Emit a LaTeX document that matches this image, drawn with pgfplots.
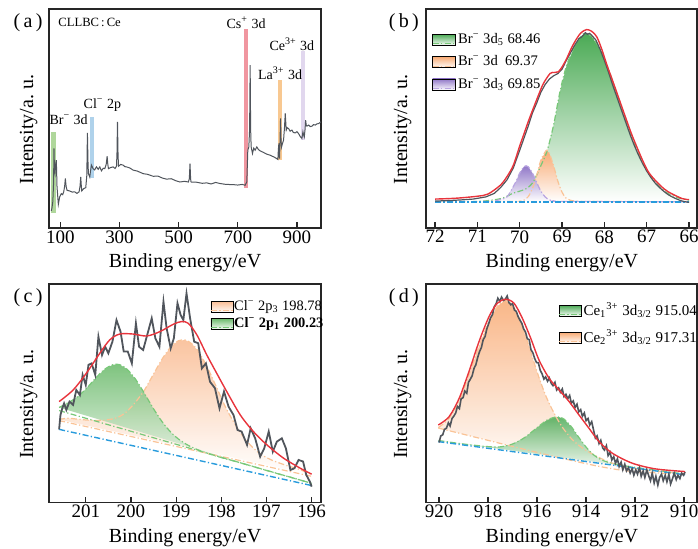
\documentclass[border=0pt]{standalone}
\usepackage{fontspec}
\setmainfont{Liberation Serif}
\usepackage{pgfplots}
\pgfplotsset{compat=1.18}
\usepackage{pgfplotstable}

\definecolor{raw}{RGB}{80,85,92}
\definecolor{env}{RGB}{232,52,60}
\definecolor{base}{RGB}{40,155,220}
\definecolor{gline}{RGB}{120,200,120}
\definecolor{gfill}{RGB}{75,170,85}
\definecolor{gfillc}{RGB}{105,185,105}
\definecolor{oline}{RGB}{250,195,150}
\definecolor{ofill}{RGB}{248,170,115}
\definecolor{ofillc}{RGB}{250,190,150}
\definecolor{pline}{RGB}{185,165,225}
\definecolor{pfill}{RGB}{145,120,200}
\definecolor{bandG}{RGB}{175,215,155}
\definecolor{bandB}{RGB}{175,210,235}
\definecolor{bandR}{RGB}{240,150,160}
\definecolor{bandO}{RGB}{248,200,145}
\definecolor{bandP}{RGB}{225,215,238}

\tikzset{dd/.style={dash pattern=on 3pt off 1.2pt on 0.6pt off 1.2pt}}

\pgfplotsset{
  panel/.style={scale only axis, ymin=0, ymax=100, ytick=\empty,
    tick align=inside, xtick pos=left, major tick length=3pt,
    axis line style={line width=0.9pt, black!85},
    every tick/.style={black!85, line width=0.6pt},
    tick label style={font=\fontsize{9.5}{10}\selectfont, inner sep=1pt},
    label style={font=\fontsize{10}{12}\selectfont},
    xlabel={Binding energy/eV}, ylabel={Intensity/a.\ u.},
    xlabel style={at={(axis description cs:0.5,-0.16)}, anchor=center, inner sep=1pt},
    /pgf/number format/assume math mode=true,
    clip mode=individual,
    legend cell align=left,
    legend style={draw=none, fill=none, inner sep=0pt, anchor=north west,
       nodes={inner sep=1pt}},
  },
}

% ---------- data ----------
\pgfplotstableread{
x y
69.5 7.8
72.0 9.5
74.5 12
77.0 20
78.5 36.3
80.2 26
81.9 24.8
84.0 29
86.4 31
88.7 18.8
93.2 10.8
97.7 14.2
103.4 15.7
108 15.2
111.3 16.5
114.5 19
116.9 22.6
119.5 19
122.6 17.2
131.6 16.9
140 16.4
148.6 16.5
156 15.8
163.3 16.5
166.5 19
168.9 23.3
171 19
172.3 16.9
179.1 18
185.9 18.4
189.5 24
191.5 43.4
193.5 30
194.9 24.8
199.4 23.3
202 26
205.1 28.7
210.7 27.1
216 26.5
222.0 27.9
228 26.8
233.3 27.9
239.0 26.1
245 27.3
250.3 27.1
255 29
258.2 32.8
260.5 29
262.7 27.1
270 27.6
278.5 27.9
285 27.2
289.8 28.2
291.5 34
293.2 48.5
295 34
296.6 28.2
304 29
312.4 28.7
318 28
323.7 27.9
335 27.4
346.3 26.4
360 26.0
380.2 24.8
395 24.5
414.1 23.6
430 23.7
445 22.8
459.3 22.3
475 22.5
490 21.6
504.5 21.0
520 21.3
533 21.0
536.2 22.5
538.4 29.4
540.5 22.5
541.8 21.0
560 20.9
580 20.4
594.9 20.6
610 20.1
625 20.8
640.1 20.3
660 19.9
685.3 19.8
700 19.6
715 19.9
724.9 19.5
730.5 21.0
733.9 35.5
737.3 37.0
740 45
741.8 74.4
743.5 45
745.2 37.0
749.7 34.0
754 36.5
758.8 35.5
764.4 37.0
770 35.8
775.7 35.2
787 34.5
798.3 33.7
810 33.2
820.9 32.5
828 32.0
835.6 31.3
837.3 36
839.0 38.6
840.2 33
841.2 31.7
843 40
844.6 50.0
846.3 40
848.0 37.0
851 38.5
854.8 40.1
858 46
860.5 52.3
863.8 44.7
867 45.8
871.8 45.4
877 44.2
883.1 44.7
888 43.6
894.4 43.4
900 44.0
905.6 43.1
911 41.8
916.9 40.9
920.3 43.9
922.5 42.5
924.9 41.6
927.5 45
929.4 49.2
931.5 47
933.9 46.5
939.5 47.0
945 46.3
950.8 46.5
956 47.2
962.1 47.0
967 47.5
973.4 47.7
981.4 48.5
}\survey

% ---- (b) ----
\pgfplotstableread{
x y
72.0 12.0
71.0 12.1
70.5 13.2
70.3 14.5
70.16 15.9
70.0 16.8
69.83 18.1
69.7 20.5
69.6 24.1
69.5 28.5
69.36 34.8
69.2 47.0
69.05 62.2
68.89 74.4
68.69 83.5
68.55 87.5
68.46 89.0
68.3 87.5
68.1 81.6
67.9 72.3
67.7 61.0
67.5 49.5
67.3 38.9
67.1 30.2
66.9 23.5
66.7 18.9
66.5 15.8
66.25 13.7
66.0 12.7
}\bG
\pgfplotstableread{
x y
72.0 12.0
70.1 12.1
70.0 12.2
69.9 12.7
69.8 14.3
69.7 18.0
69.6 24.1
69.5 31.0
69.37 35.5
69.3 34.1
69.2 28.4
69.1 21.4
69.0 16.3
68.9 13.5
68.8 12.6
68.6 12.2
68.3 12.1
66.0 12.0
}\bO
\pgfplotstableread{
x y
72.0 12.0
70.75 12.1
70.5 12.8
70.3 14.2
70.1 20.8
70.0 25.1
69.9 28.0
69.85 28.4
69.8 28.0
69.7 25.1
69.6 20.8
69.5 16.8
69.4 14.2
69.3 12.8
69.2 12.4
69.0 12.1
66.0 12.0
}\bP
\pgfplotstableread{
x y
72.0 13.2
71.5 13.6
71.0 14.5
70.75 15.5
70.46 19.5
70.3 23.5
70.15 28.7
70.0 37.5
69.91 42.4
69.8 48.5
69.68 54.6
69.55 61.0
69.44 66.0
69.28 70.6
69.18 71.0
69.09 71.3
69.0 73.5
68.89 77.4
68.77 82.5
68.65 86.6
68.55 89.2
68.42 90.6
68.3 89.8
68.18 87.3
68.06 81.5
67.94 74.4
67.82 68.0
67.71 62.0
67.5 50.5
67.34 42.0
67.1 31.0
66.94 25.0
66.7 19.8
66.5 16.6
66.16 13.4
66.0 13.0
}\bE
\pgfplotstableread{
x y
72.0 12.3
71.7 12.5
71.4 12.8
71.1 13.2
70.8 14.2
70.6 15.8
70.45 18.5
70.3 22.0
70.15 27.5
70.0 35.5
69.9 41.0
69.8 46.5
69.7 52.5
69.6 57.0
69.5 62.0
69.4 65.5
69.3 68.0
69.2 69.5
69.1 70.5
69.0 72.5
68.9 76.5
68.8 80.0
68.7 83.5
68.6 86.5
68.55 87.0
68.5 88.0
68.45 89.2
68.4 88.4
68.35 88.9
68.3 88.0
68.2 85.8
68.1 81.5
68.0 76.5
67.9 71.0
67.8 65.0
67.7 59.5
67.6 54.0
67.5 48.5
67.4 43.0
67.3 38.0
67.2 33.5
67.1 29.5
67.0 26.0
66.9 23.0
66.8 20.5
66.7 18.5
66.6 16.8
66.5 15.3
66.4 14.2
66.3 13.3
66.2 12.5
66.1 12.0
66.0 11.7
}\bR

% ---- (c) ----
\pgfplotstableread{
x y
201.59 38.0
201.4 38.6
201.2 38.2
201.0 37.8
200.8 37.6
200.6 37.7
200.4 38.3
200.25 39.4
200.1 41.5
199.9 45.9
199.7 51.5
199.5 58.8
199.3 66.0
199.1 71.7
198.95 74.0
198.8 74.4
198.65 72.6
198.5 69.0
198.3 61.5
198.1 52.5
197.9 43.4
197.7 36.0
197.5 29.8
197.3 25.1
197.1 21.8
196.9 19.6
196.7 18.0
196.5 16.6
196.3 15.4
196.0 12.8
}\cO
\pgfplotstableread{
x y
201.59 43.5
201.4 45.6
201.2 48.1
201.0 51.9
200.8 56.5
200.6 60.7
200.4 63.1
200.25 63.1
200.1 61.3
199.9 56.5
199.7 49.9
199.5 42.9
199.3 36.7
199.1 31.8
198.95 29.1
198.8 27.0
198.65 25.3
198.5 24.0
198.3 22.5
198.1 21.2
197.9 20.0
197.7 18.9
197.5 17.7
197.3 16.5
197.1 15.3
196.9 14.1
196.7 12.9
196.5 11.8
196.3 10.6
196.0 8.8
}\cG
\pgfplotstableread{
x y
201.59 46.2
201.28 51.5
200.99 59.1
200.69 68.3
200.47 74.4
200.25 77.1
199.95 77.1
199.65 76.2
199.36 78.2
199.06 81.6
198.88 82.8
198.73 82.0
198.54 76.7
198.32 67.5
198.10 59.1
197.88 50.8
197.58 40.1
197.29 32.5
196.99 26.4
196.62 20.3
196.25 15.7
196.0 13.0
}\cE
\pgfplotstableread{
x y
201.59 33.5
201.56 40.1
201.52 43.1
201.48 45.4
201.43 42.4
201.36 46.2
201.28 44.7
201.21 51.5
201.13 49.2
201.07 58.4
201.0 53.8
200.94 63.0
200.87 63.7
200.79 58.4
200.72 75.9
200.64 67.5
200.57 71.3
200.50 68.3
200.41 73.6
200.32 83.5
200.23 78.2
200.16 69.1
200.07 69.1
199.98 63.7
199.89 82.0
199.82 71.3
199.73 69.8
199.64 76.7
199.54 84.3
199.46 75.2
199.37 71.3
199.28 91.9
199.21 79.7
199.12 70.6
199.05 75.2
198.97 91.2
198.90 85.8
198.84 83.5
198.77 95.7
198.69 84.3
198.60 73.6
198.51 72.9
198.43 61.4
198.34 63.7
198.25 55.3
198.14 52.3
198.04 43.1
197.94 50.8
197.84 43.9
197.73 40.1
197.64 33.2
197.55 32.5
197.43 26.4
197.35 34.0
197.25 29.4
197.14 21.0
197.05 24.8
196.95 32.5
196.86 23.3
196.77 27.9
196.66 29.4
196.57 24.8
196.47 14.9
196.38 15.7
196.29 19.5
196.19 18.8
196.12 12.7
196.04 9.6
196.0 7.3
}\cR

% ---- (d) ----
\pgfplotstableread{
x y
920.03 34.3
919.59 38.5
919.18 46.5
918.78 58.5
918.37 71.5
917.96 83.0
917.62 89.8
917.31 92.5
917.01 90.5
916.67 83.0
916.33 71.5
915.99 59.5
915.65 49.0
915.31 41.0
914.97 34.5
914.56 28.8
914.15 25.0
913.61 21.4
913.06 18.6
912.38 16.3
911.43 14.7
909.96 13.2
}\dO
\pgfplotstableread{
x y
920.03 34.3
919.59 38.5
919.18 46.5
918.78 58.5
918.37 71.5
917.96 83.0
917.62 89.8
917.31 92.5
917.01 90.5
916.67 83.0
916.33 71.5
915.99 59.5
915.65 49.0
915.31 41.0
914.97 34.5
914.56 28.8
914.15 25.0
913.61 21.4
913.06 18.6
912.38 16.3
911.43 14.7
909.96 13.2
909.96 13.0
912.08 14.2
913.44 16.5
915.03 20.4
916.46 24.2
918.23 29.1
920.03 34.1
}\dOfill
\pgfplotstableread{
x y
920.03 34.1
918.23 29.1
916.46 24.2
915.03 20.4
913.44 16.5
912.08 14.2
909.96 13.0
}\dOlow
\pgfplotstableread{
x y
920.03 28.4
919.0 26.8
918.0 25.6
917.5 25.5
917.0 26.8
916.5 29.8
916.0 34.3
915.6 37.7
915.3 39.0
915.1 39.1
914.9 38.2
914.6 34.7
914.3 29.9
914.0 25.4
913.7 21.9
913.4 19.7
913.0 18.1
912.5 17.0
912.0 16.1
911.0 14.6
909.96 13.0
}\dG
\pgfplotstableread{
x y
920.03 35.5
919.59 39.3
919.18 47.7
918.78 59.9
918.37 73.6
917.96 85.1
917.62 91.2
917.28 93.0
916.94 91.2
916.60 84.3
916.26 75.2
915.92 65.2
915.51 56.9
915.10 51.5
914.69 46.2
914.29 40.1
913.88 34.0
913.47 27.9
912.93 22.6
912.11 18.0
911.16 15.4
909.96 14.2
}\dE
\pgfplotstableread{
x y
920.00 27.5
919.93 30.5
919.85 31.0
919.78 33.5
919.70 34.0
919.62 36.5
919.55 35.0
919.47 38.5
919.40 39.5
919.32 41.0
919.25 44.0
919.17 43.0
919.10 47.5
919.02 48.0
918.95 51.0
918.87 50.0
918.80 55.0
918.72 56.5
918.65 58.0
918.57 61.5
918.50 63.0
918.42 66.5
918.35 69.0
918.27 71.0
918.20 74.5
918.12 76.0
918.05 79.5
917.97 82.0
917.90 84.5
917.82 86.0
917.75 89.5
917.67 91.0
917.60 93.5
917.52 92.0
917.45 94.0
917.37 92.5
917.30 93.0
917.22 94.5
917.15 91.5
917.07 90.5
917.00 91.0
916.92 88.0
916.85 87.5
916.77 85.0
916.70 83.5
916.62 82.0
916.55 79.5
916.47 78.0
916.40 75.0
916.32 74.5
916.25 70.0
916.17 68.5
916.10 66.0
916.02 64.0
915.95 64.0
915.87 60.5
915.80 59.0
915.72 56.5
915.65 57.5
915.57 55.5
915.50 57.0
915.42 54.5
915.35 53.5
915.27 55.0
915.20 51.5
915.12 52.5
915.05 50.5
914.97 52.0
914.90 48.5
914.82 49.5
914.75 47.5
914.67 49.0
914.60 45.5
914.52 46.5
914.45 43.5
914.37 45.0
914.30 41.5
914.22 42.5
914.15 39.5
914.07 41.0
914.00 37.5
913.92 38.5
913.85 35.5
913.77 37.0
913.70 33.5
913.62 29.5
913.55 30.5
913.47 27.0
913.40 28.5
913.32 25.0
913.25 24.0
913.17 26.0
913.10 21.5
913.02 23.0
912.95 19.5
912.87 21.0
912.80 18.0
912.72 20.0
912.65 16.5
912.57 18.5
912.50 15.0
912.42 17.5
912.35 14.5
912.27 16.0
912.20 13.5
912.12 15.5
912.05 12.5
911.97 15.0
911.90 13.0
911.82 16.0
911.75 12.0
911.67 14.5
911.60 11.5
911.52 15.0
911.45 12.5
911.37 10.0
911.30 13.5
911.22 9.0
911.15 12.0
911.07 8.0
911.00 11.5
910.92 13.0
910.85 10.0
910.77 12.5
910.70 9.5
910.62 13.0
910.55 8.5
910.47 11.0
910.40 13.5
910.32 10.5
910.25 12.5
910.17 11.0
910.10 13.5
910.02 12.5
909.96 14.0
}\dR

\begin{document}
\begin{tikzpicture}
\useasboundingbox (0,0) rectangle (349pt,274.5pt);

% ================= (a) =================
\begin{axis}[panel, at={(24.5pt,160.5pt)}, anchor=south west,
  width=136pt, height=109.5pt, xmin=61.6, xmax=981.4,
  xtick={100,300,500,700,900},
  ylabel style={at={(axis description cs:-0.075,0.45)}, anchor=center}]
\addplot[fill=bandG, draw=none, forget plot] coordinates {(69.5,6.9) (86.4,6.9) (86.4,43.9) (69.5,43.9)} -- cycle;
\addplot[fill=bandB, draw=none, forget plot] coordinates {(201.7,22.6) (213,22.6) (213,50.5) (201.7,50.5)} -- cycle;
\addplot[fill=bandR, draw=none, forget plot] coordinates {(722.6,18.4) (736.2,18.4) (736.2,90.9) (722.6,90.9)} -- cycle;
\addplot[fill=bandO, draw=none, forget plot] coordinates {(834.5,30.9) (849.2,30.9) (849.2,67.8) (834.5,67.8)} -- cycle;
\addplot[fill=bandP, draw=none, forget plot] coordinates {(914.7,40.4) (928.2,40.4) (928.2,80.8) (914.7,80.8)} -- cycle;
\addplot[raw, line width=0.5pt, forget plot] table {\survey};
\node[font=\fontsize{6.3}{7}\selectfont] at (axis cs:199,93.8) {CLLBC\,:\,Ce};
\node[font=\fontsize{7}{8}\selectfont] at (axis cs:128,49.5) {Br\textsuperscript{−} 3d};
\node[font=\fontsize{7}{8}\selectfont] at (axis cs:242,56) {Cl\textsuperscript{−} 2p};
\node[font=\fontsize{7}{8}\selectfont] at (axis cs:728,93.8) {Cs\textsuperscript{+} 3d};
\node[font=\fontsize{7}{8}\selectfont] at (axis cs:843,70.6) {La\textsuperscript{3+} 3d};
\node[font=\fontsize{7}{8}\selectfont] at (axis cs:883,84) {Ce\textsuperscript{3+} 3d};
\node[font=\fontsize{10}{12}\selectfont] at (axis description cs:-0.077,0.936) {(\,a\,)};
\end{axis}

% ================= (b) =================
\begin{axis}[panel, at={(213.2pt,160.5pt)}, anchor=south west,
  width=135.5pt, height=109.5pt, x dir=reverse, xmin=65.803, xmax=72.205,
  xtick={66,67,...,72},
  ylabel style={at={(axis description cs:-0.088,0.45)}, anchor=center},
  legend style={at={(axis description cs:0.02,0.90)}, row sep=2.6pt,
     font=\fontsize{7.3}{8}\selectfont}]
\addplot[draw=none, top color=gfill, bottom color=white, forget plot] table {\bG} -- cycle;
\addplot[draw=none, top color=ofill, bottom color=white, forget plot] table {\bO} -- cycle;
\addplot[draw=none, top color=pfill, bottom color=white, forget plot] table {\bP} -- cycle;
\addplot[gline, dd, line width=0.6pt, smooth, forget plot] table {\bG};
\addplot[oline, dd, line width=0.6pt, smooth, forget plot] table {\bO};
\addplot[pline, dd, line width=0.6pt, smooth, forget plot] table {\bP};
\addplot[base, dd, line width=0.6pt, forget plot] coordinates {(72,11.9) (66,11.9)};
\addplot[raw, line width=0.6pt, forget plot] table {\bR};
\addplot[env, line width=0.7pt, smooth, forget plot] table {\bE};
\addlegendimage{legend image code/.code={\shade[top color=gfill, bottom color=white] (0pt,-2.8pt) rectangle (11.5pt,2.8pt); \draw[gline, dd, line width=0.5pt] (0pt,-2pt) -- (11.5pt,-2pt);}}
\addlegendentry{Br\textsuperscript{−} 3d\textsubscript{5} 68.46}
\addlegendimage{legend image code/.code={\shade[top color=ofill, bottom color=white] (0pt,-2.8pt) rectangle (11.5pt,2.8pt); \draw[oline, dd, line width=0.5pt] (0pt,-2pt) -- (11.5pt,-2pt);}}
\addlegendentry{Br\textsuperscript{−} 3d\ \ 69.37}
\addlegendimage{legend image code/.code={\shade[top color=pfill, bottom color=white] (0pt,-2.8pt) rectangle (11.5pt,2.8pt); \draw[pline, dd, line width=0.5pt] (0pt,-2pt) -- (11.5pt,-2pt);}}
\addlegendentry{Br\textsuperscript{−} 3d\textsubscript{3} 69.85}
\node[font=\fontsize{10}{12}\selectfont] at (axis description cs:-0.083,0.936) {(\,b\,)};
\end{axis}

% ================= (c) =================
\begin{axis}[panel, at={(24.5pt,23.2pt)}, anchor=south west,
  width=136pt, height=109.3pt, x dir=reverse, xmin=195.793, xmax=201.814,
  xtick={196,197,...,201},
  ylabel style={at={(axis description cs:-0.075,0.45)}, anchor=center},
  legend style={at={(axis description cs:0.592,0.93)}, row sep=1.2pt,
     font=\fontsize{7.2}{8}\selectfont, nodes={inner sep=0.4pt}}]
\addplot[draw=none, top color=ofillc, bottom color=white, fill opacity=0.9, forget plot] table {\cO} -- cycle;
\addplot[draw=none, top color=gfillc, bottom color=white, fill opacity=0.85, forget plot] table {\cG} -- cycle;
\addplot[oline, dd, line width=0.6pt, smooth, forget plot] table {\cO};
\addplot[gline, dd, line width=0.6pt, smooth, forget plot] table {\cG};
\addplot[oline, dd, line width=0.6pt, forget plot] coordinates {(201.59,37.5) (196.0,12.0)};
\addplot[gline, dd, line width=0.6pt, forget plot] coordinates {(201.59,42.1) (196.0,8.8)};
\addplot[base, dd, line width=0.7pt, forget plot] coordinates {(201.59,33.5) (196.0,7.8)};
\addplot[raw, line width=0.9pt, forget plot] table {\cR};
\addplot[env, line width=0.7pt, smooth, forget plot] table {\cE};
\addlegendimage{legend image code/.code={\shade[top color=ofillc, bottom color=white] (0pt,-2.8pt) rectangle (11pt,2.8pt); \draw[oline, dd, line width=0.5pt] (0pt,-2pt) -- (11pt,-2pt);}}
\addlegendentry{Cl\textsuperscript{−} 2p\textsubscript{3} 198.78}
\addlegendimage{legend image code/.code={\shade[top color=gfillc, bottom color=white] (0pt,-2.8pt) rectangle (11pt,2.8pt); \draw[gline, dd, line width=0.5pt] (0pt,-2pt) -- (11pt,-2pt);}}
\addlegendentry{\bfseries Cl\textsuperscript{−} 2p\textsubscript{1} 200.23}
\node[font=\fontsize{10}{12}\selectfont] at (axis description cs:-0.077,0.936) {(\,c\,)};
\end{axis}

% ================= (d) =================
\begin{axis}[panel, at={(213.2pt,23.2pt)}, anchor=south west,
  width=135.5pt, height=109.3pt, x dir=reverse, xmin=909.456, xmax=920.517,
  xtick={910,912,...,920},
  ylabel style={at={(axis description cs:-0.088,0.45)}, anchor=center},
  legend style={at={(axis description cs:0.486,0.925)}, row sep=3.5pt,
     font=\fontsize{7.5}{8}\selectfont}]
\addplot[draw=none, top color=ofill, bottom color=white, fill opacity=0.85, forget plot] table {\dOfill} -- cycle;
\addplot[draw=none, top color=gfill, bottom color=white, fill opacity=0.85, forget plot] table {\dG} -- cycle;
\addplot[oline, dd, line width=0.6pt, smooth, forget plot] table {\dO};
\addplot[oline, dd, line width=0.6pt, smooth, forget plot] table {\dOlow};
\addplot[gline, dd, line width=0.6pt, smooth, forget plot] table {\dG};
\addplot[base, dd, line width=0.7pt, forget plot] coordinates {(920.03,27.9) (909.96,12.7)};
\addplot[raw, line width=0.8pt, forget plot] table {\dR};
\addplot[env, line width=0.7pt, smooth, forget plot] table {\dE};
\addlegendimage{legend image code/.code={\shade[top color=gfill, bottom color=white] (0pt,-2.8pt) rectangle (11pt,2.8pt); \draw[gline, dd, line width=0.5pt] (0pt,-2pt) -- (11pt,-2pt);}}
\addlegendentry{Ce\textsubscript{1}\textsuperscript{3+} 3d\textsubscript{3/2} 915.04}
\addlegendimage{legend image code/.code={\shade[top color=ofill, bottom color=white] (0pt,-2.8pt) rectangle (11pt,2.8pt); \draw[oline, dd, line width=0.5pt] (0pt,-2pt) -- (11pt,-2pt);}}
\addlegendentry{Ce\textsubscript{2}\textsuperscript{3+} 3d\textsubscript{3/2} 917.31}
\node[font=\fontsize{10}{12}\selectfont] at (axis description cs:-0.083,0.936) {(\,d\,)};
\end{axis}
\end{tikzpicture}
\end{document}
